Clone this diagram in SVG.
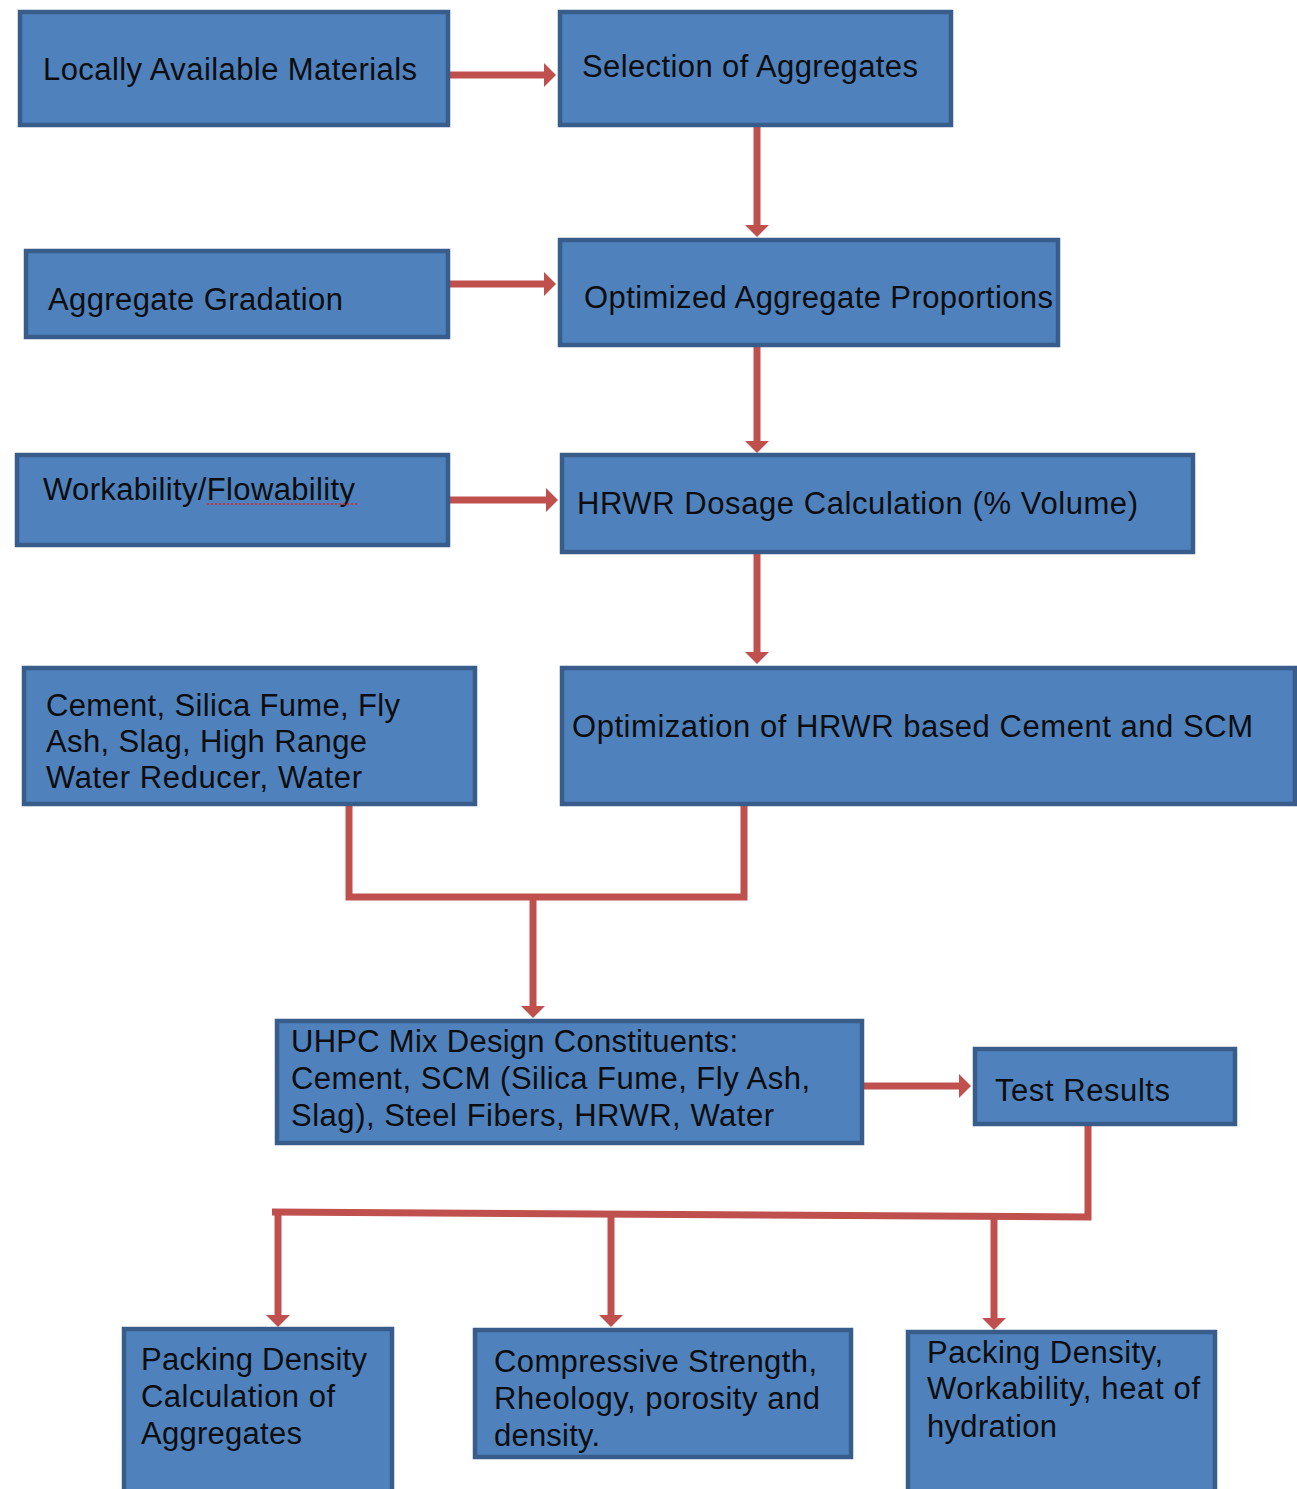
<svg xmlns="http://www.w3.org/2000/svg" width="1297" height="1489" viewBox="0 0 1297 1489">
<style>
.box{fill:#4F81BD;stroke:#385D8A;stroke-width:4.5;}
.t{font-family:"Liberation Sans",Arial,sans-serif;font-size:31px;fill:#0d0d0d;}
.c{fill:none;stroke:#C0504D;stroke-width:7;}
</style>
<defs>
<marker id="ah" markerUnits="userSpaceOnUse" markerWidth="16" markerHeight="26" refX="1" refY="12" orient="auto" overflow="visible">
<path d="M0,0 L12,12 L0,24 Z" fill="#C0504D"/>
</marker>
</defs>
<rect width="1297" height="1489" fill="#ffffff"/>
<g id="connectors">
<line class="c" x1="450" y1="75" x2="545" y2="75" marker-end="url(#ah)"/>
<line class="c" x1="757" y1="127" x2="757" y2="226" marker-end="url(#ah)"/>
<line class="c" x1="450" y1="284" x2="545" y2="284" marker-end="url(#ah)"/>
<line class="c" x1="757" y1="347" x2="757" y2="442" marker-end="url(#ah)"/>
<line class="c" x1="450" y1="500" x2="547" y2="500" marker-end="url(#ah)"/>
<line class="c" x1="757" y1="554" x2="757" y2="653" marker-end="url(#ah)"/>
<polyline class="c" points="349,806 349,897 744,897 744,806"/>
<line class="c" x1="533" y1="897" x2="533" y2="1007" marker-end="url(#ah)"/>
<line class="c" x1="864" y1="1086" x2="960" y2="1086" marker-end="url(#ah)"/>
<polyline class="c" points="1088,1126 1088,1217 272,1212"/>
<line class="c" x1="278" y1="1212" x2="278" y2="1316" marker-end="url(#ah)"/>
<line class="c" x1="611" y1="1214" x2="611" y2="1316" marker-end="url(#ah)"/>
<line class="c" x1="994" y1="1216" x2="994" y2="1319" marker-end="url(#ah)"/>
</g>
<g id="n1"><rect class="box" x="20" y="12" width="428" height="113"/><text class="t" x="43" y="80" textLength="374">Locally Available Materials</text></g>
<g id="n2"><rect class="box" x="560" y="12" width="391" height="113"/><text class="t" x="582" y="77" textLength="336">Selection of Aggregates</text></g>
<g id="n3"><rect class="box" x="26" y="251" width="422" height="86"/><text class="t" x="48" y="310" textLength="295">Aggregate Gradation</text></g>
<g id="n4"><rect class="box" x="560" y="240" width="498" height="105"/><text class="t" x="584" y="308" textLength="469">Optimized Aggregate Proportions</text></g>
<g id="n5"><rect class="box" x="17" y="455" width="431" height="90"/><text class="t" x="43" y="500" textLength="312">Workability/Flowability</text><line x1="207" y1="504" x2="357" y2="504" stroke="#e02020" stroke-width="1.5" stroke-dasharray="2,2"/></g>
<g id="n6"><rect class="box" x="562" y="455" width="631" height="97"/><text class="t" x="577" y="514" textLength="561">HRWR Dosage Calculation (% Volume)</text></g>
<g id="n7"><rect class="box" x="24" y="668" width="451" height="136"/>
<text class="t" x="46" y="716" textLength="354">Cement, Silica Fume, Fly</text>
<text class="t" x="46" y="752" textLength="321">Ash, Slag, High Range</text>
<text class="t" x="46" y="788" textLength="316">Water Reducer, Water</text></g>
<g id="n8"><rect class="box" x="562" y="668" width="733" height="136"/><text class="t" x="572" y="737" textLength="681">Optimization of HRWR based Cement and SCM</text></g>
<g id="n9"><rect class="box" x="277" y="1021" width="585" height="122"/>
<text class="t" x="291" y="1052" textLength="447">UHPC Mix Design Constituents:</text>
<text class="t" x="291" y="1089" textLength="519">Cement, SCM (Silica Fume, Fly Ash,</text>
<text class="t" x="291" y="1126" textLength="483">Slag), Steel Fibers, HRWR, Water</text></g>
<g id="n10"><rect class="box" x="975" y="1049" width="260" height="75"/><text class="t" x="995" y="1101" textLength="175">Test Results</text></g>
<g id="n11"><rect class="box" x="124" y="1329" width="268" height="172"/>
<text class="t" x="141" y="1370" textLength="226">Packing Density</text>
<text class="t" x="141" y="1407" textLength="194">Calculation of</text>
<text class="t" x="141" y="1444" textLength="161">Aggregates</text></g>
<g id="n12"><rect class="box" x="475" y="1330" width="376" height="127"/>
<text class="t" x="494" y="1372" textLength="323">Compressive Strength,</text>
<text class="t" x="494" y="1409" textLength="326">Rheology, porosity and</text>
<text class="t" x="494" y="1446" textLength="106">density.</text></g>
<g id="n13"><rect class="box" x="908" y="1332" width="307" height="170"/>
<text class="t" x="927" y="1363" textLength="236">Packing Density,</text>
<text class="t" x="927" y="1399" textLength="273">Workability, heat of</text>
<text class="t" x="927" y="1437" textLength="130">hydration</text></g>
</svg>
